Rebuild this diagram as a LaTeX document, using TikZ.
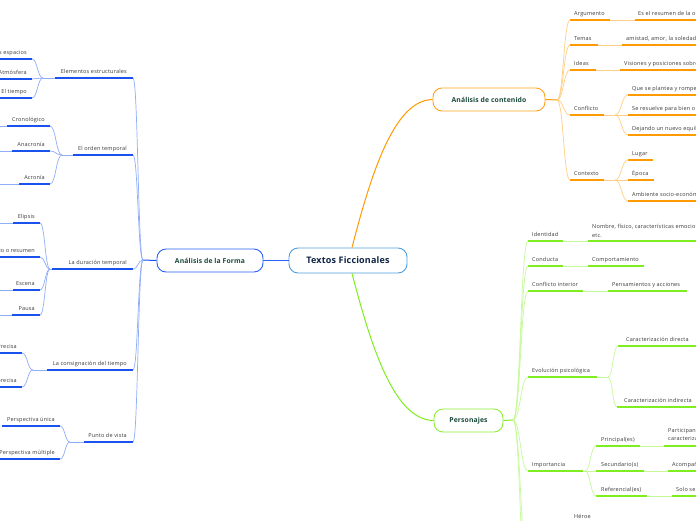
\documentclass[tikz,border=0pt]{standalone}
\usepackage{fontspec}
\setmainfont{Open Sans}
\newfontfamily\lblfont[LetterSpace=3.5]{Open Sans}
\newfontfamily\bigfont[LetterSpace=2]{Open Sans}
\usetikzlibrary{calc}
\definecolor{bthick}{HTML}{1A52F0}
\definecolor{bthin}{HTML}{8FAEF8}
\definecolor{othick}{HTML}{FF9A00}
\definecolor{othin}{HTML}{FFCF85}
\definecolor{gthick}{HTML}{80EE1E}
\definecolor{gthin}{HTML}{C6F99A}
\definecolor{txt}{HTML}{3A3A3A}
\definecolor{nodetxt}{HTML}{1B4A38}
\definecolor{centtxt}{HTML}{0E2444}
\definecolor{centborder}{HTML}{4D9FDF}
\definecolor{bforma}{HTML}{2D63F5}
\definecolor{ocont}{HTML}{FFA21F}
\definecolor{gpers}{HTML}{8DEF3A}
\newcommand\MItem[8]{%
  \coordinate (#1-l) at (#6,#5);
  \coordinate (#1-r) at (#7,#5);
  \draw[#8] (#1-l) -- (#1-r);
  \node[lbl,anchor=#3] (#1) at (#4,#5-5) {#2};
}
\newcommand\MLink[3]{%
  \draw[#3] (#1) .. controls ($(#1)!0.5!(#2 |- #1)$) and ($(#2)!0.5!(#1 |- #2)$) .. (#2);
}
\begin{document}
\begin{tikzpicture}[x=1pt,y=-1pt,
  lbl/.style={font=\lblfont\fontsize{5.5}{6.6}\selectfont, text=txt, inner sep=0pt},
  bT/.style={draw=bthick, line width=1.3pt},
  bt/.style={draw=bthin, line width=0.7pt},
  oT/.style={draw=othick, line width=1.3pt},
  ot/.style={draw=othin, line width=0.7pt},
  gT/.style={draw=gthick, line width=1.3pt},
  gt/.style={draw=gthin, line width=0.7pt},
  mainnode/.style={rounded corners=9pt, line width=0.9pt, minimum height=23pt,
    font=\bigfont\bfseries\fontsize{6.8}{8}\selectfont, text=nodetxt, inner sep=0pt, fill=white},
  twoline/.style={lbl, align=left, font=\lblfont\fontsize{5.5}{8.5}\selectfont}
]
\useasboundingbox (0,0) rectangle (696,520);
\clip (0,0) rectangle (696,520);
\fill[white] (0,0) rectangle (696,520);

% main nodes
\node[mainnode, draw=centborder, minimum width=118pt, minimum height=25pt, text=centtxt,
  font=\bigfont\bfseries\fontsize{9}{10}\selectfont] (root) at (348,260.5) {Textos Ficcionales};
\node[mainnode, draw=bforma, minimum width=106pt] (forma) at (210,260.5) {Análisis de la Forma};
\node[mainnode, draw=ocont, minimum width=112pt] (cont) at (489,99.5) {Análisis de contenido};
\node[mainnode, draw=gpers, minimum width=69pt] (pers) at (468.5,420.5) {Personajes};

\coordinate (rootT) at ([xshift=4pt]root.north);
\coordinate (rootB) at ([xshift=4pt]root.south);
\draw[draw=bforma, line width=0.8pt] (forma.east) -- (root.west);
\draw[draw=othick, line width=1pt] (rootT) .. controls (372,170) and (395,100) .. (cont.west);
\draw[draw=gthick, line width=1pt] (rootB) .. controls (372,350) and (395,420) .. (pers.west);

% ---------- left: Analisis de la Forma ----------
\coordinate (FJ) at (143,260);
\draw[draw=bthick, line width=1pt] (forma.west) -- (FJ);

\MItem{E}{Elementos estructurales}{base east}{127}{78}{55}{133}{bT}
\MItem{O}{El orden temporal}{base east}{127}{155}{73}{133}{bT}
\MItem{D}{La duración temporal}{base east}{127}{269}{52}{133}{bT}
\MItem{C}{La consignación del tiempo}{base east}{127}{370}{47}{133}{bT}
\MItem{P}{Punto de vista}{base east}{127}{442}{84}{133}{bT}
\foreach \n in {E,O,D,C,P}{\MLink{FJ}{\n-r}{bt}}

\coordinate (EJ) at (43,78);
\coordinate (OJ) at (62,155);
\coordinate (DJ) at (50,269);
\coordinate (CnJ) at (33,370);
\coordinate (pvJ) at (70,442);
\draw[bt] (EJ) -- (E-l);
\draw[bt] (OJ) -- (O-l);
\draw[bt] (DJ) -- (D-l);
\draw[bt] (CnJ) -- (C-l);
\draw[bt] (pvJ) -- (P-l);

\MItem{E1}{Los espacios}{base east}{27}{59}{0}{32}{bT}
\MItem{E2}{Atmósfera}{base east}{27}{79}{0}{32}{bT}
\MItem{E3}{El tiempo}{base east}{27}{98}{0}{32}{bT}
\foreach \n in {E1,E2,E3}{\MLink{EJ}{\n-r}{bt}}

\MItem{O1}{Cronológico}{base east}{45}{126}{7}{50}{bT}
\MItem{O2}{Anacronía}{base east}{45}{151}{12}{50}{bT}
\MItem{O3}{Acronía}{base east}{45}{184}{19}{50}{bT}
\foreach \n in {O1,O2,O3}{\MLink{OJ}{\n-r}{bt}}
\draw[bt] (0,126) -- (O1-l);
\draw[bt] (0,151) -- (O2-l);
\draw[bt] (0,184) -- (O3-l);

\MItem{D1}{Elipsis}{base east}{35}{223}{13}{40}{bT}
\MItem{D2}{Sumario o resumen}{base east}{35}{257}{0}{40}{bT}
\MItem{D3}{Escena}{base east}{35}{290}{13}{40}{bT}
\MItem{D4}{Pausa}{base east}{35}{315}{12}{40}{bT}
\foreach \n in {D1,D2,D3,D4}{\MLink{DJ}{\n-r}{bt}}
\draw[bt] (0,223) -- (D1-l);
\draw[bt] (0,290) -- (D3-l);
\draw[bt] (0,315) -- (D4-l);

\MItem{C1}{Precisa}{base east}{17}{353}{0}{22}{bT}
\MItem{C2}{Imprecisa}{base east}{17}{387}{0}{22}{bT}
\foreach \n in {C1,C2}{\MLink{CnJ}{\n-r}{bt}}

\MItem{P1}{Perspectiva única}{base east}{55}{426}{2}{60}{bT}
\MItem{P2}{Perspectiva múltiple}{base east}{55}{459}{0}{60}{bT}
\foreach \n in {P1,P2}{\MLink{pvJ}{\n-r}{bt}}

% ---------- right top: Analisis de contenido ----------
\coordinate (KJ) at (557,100);
\draw[draw=othick, line width=1pt] (cont.east) -- (KJ);

\MItem{R1}{Argumento}{base west}{574}{20}{570}{610}{oT}
\MItem{R2}{Temas}{base west}{574}{45}{570}{598}{oT}
\MItem{R3}{Ideas}{base west}{574}{70}{570}{596}{oT}
\MItem{R4}{Conflicto}{base west}{574}{115}{570}{604}{oT}
\MItem{R5}{Contexto}{base west}{574}{180}{570}{604}{oT}
\foreach \n in {R1,R2,R3,R4,R5}{\MLink{KJ}{\n-l}{ot}}

\MItem{R1a}{Es el resumen de la obra}{base west}{638}{20}{635}{700}{oT}
\MItem{R2a}{amistad, amor, la soledad, la muerte}{base west}{626}{45}{622}{700}{oT}
\MItem{R3a}{Visiones y posiciones sobre la vida}{base west}{624}{70}{620}{700}{oT}
\draw[ot] (R1-r) -- (R1a-l);
\draw[ot] (R2-r) -- (R2a-l);
\draw[ot] (R3-r) -- (R3a-l);

\coordinate (R4J) at (615,115);
\coordinate (R5J) at (615,180);
\draw[ot] (R4-r) -- (R4J);
\draw[ot] (R5-r) -- (R5J);
\MItem{R4a}{Que se plantea y rompe el equilibrio}{base west}{632}{95}{628}{700}{oT}
\MItem{R4b}{Se resuelve para bien o para mal}{base west}{632}{115}{628}{700}{oT}
\MItem{R4c}{Dejando un nuevo equilibrio}{base west}{632}{135}{628}{700}{oT}
\foreach \n in {R4a,R4b,R4c}{\MLink{R4J}{\n-l}{ot}}
\MItem{R5a}{Lugar}{base west}{632}{160}{628}{653}{oT}
\MItem{R5b}{Época}{base west}{632}{180}{628}{654}{oT}
\MItem{R5c}{Ambiente socio-económico}{base west}{632}{201}{628}{700}{oT}
\foreach \n in {R5a,R5b,R5c}{\MLink{R5J}{\n-l}{ot}}

% ---------- right bottom: Personajes ----------
\coordinate (GJ) at (513,420);
\draw[draw=gthick, line width=1pt] (pers.east) -- (GJ);

\MItem{G1}{Identidad}{base west}{532}{241}{528}{563}{gT}
\MItem{G2}{Conducta}{base west}{532}{266}{528}{563}{gT}
\MItem{G3}{Conflicto interior}{base west}{532}{291}{528}{583}{gT}
\MItem{G4}{Evolución psicológica}{base west}{532}{377}{528}{597}{gT}
\MItem{G5}{Importancia}{base west}{532}{471}{528}{583}{gT}
\coordinate (G6-l) at (528,560);
\coordinate (G7-l) at (528,610);
\foreach \n in {G1,G2,G3,G4,G5,G6,G7}{\MLink{GJ}{\n-l}{gt}}

\coordinate (G1a-l) at (588,241);
\coordinate (G1a-r) at (700,241);
\draw[gT] (G1a-l) -- (G1a-r);
\node[twoline, anchor=south west] (G1a) at (592,237.5) {Nombre, físico, características emocionales,\\etc.};
\draw[gt] (G1-r) -- (G1a-l);

\MItem{G2a}{Comportamiento}{base west}{592}{266}{588}{644}{gT}
\draw[gt] (G2-r) -- (G2a-l);
\MItem{G3a}{Pensamientos y acciones}{base west}{612}{291}{608}{687}{gT}
\draw[gt] (G3-r) -- (G3a-l);

\coordinate (G4J) at (608,377);
\draw[gt] (G4-r) -- (G4J);
\MItem{G4a}{Caracterización directa}{base west}{626}{346}{618}{700}{gT}
\MItem{G4b}{Caracterización indirecta}{base west}{624}{407}{617}{700}{gT}
\foreach \n in {G4a,G4b}{\MLink{G4J}{\n-l}{gt}}

\coordinate (G5J) at (585,471);
\draw[gt] (G5-r) -- (G5J);
\MItem{G5a}{Principal(es)}{base west}{601}{446}{596}{640}{gT}
\MItem{G5b}{Secundario(s)}{base west}{601}{471}{596}{644}{gT}
\MItem{G5c}{Referencial(es)}{base west}{601}{496}{596}{647}{gT}
\foreach \n in {G5a,G5b,G5c}{\MLink{G5J}{\n-l}{gt}}

\coordinate (G5aa-l) at (664,446);
\coordinate (G5aa-r) at (700,446);
\draw[gT] (G5aa-l) -- (G5aa-r);
\node[twoline, anchor=south west] (G5aa) at (668,442.5) {Participan en toda la historia\\caracterizados en profundidad};
\draw[gt] (G5a-r) -- (G5aa-l);
\MItem{G5ba}{Acompañan al protagonista}{base west}{672}{471}{668}{700}{gT}
\draw[gt] (G5b-r) -- (G5ba-l);
\MItem{G5ca}{Solo se mencionan}{base west}{676}{496}{672}{700}{gT}
\draw[gt] (G5c-r) -- (G5ca-l);

\node[lbl, anchor=base west] (heroe) at (574,518) {Héroe};
\end{tikzpicture}
\end{document}
